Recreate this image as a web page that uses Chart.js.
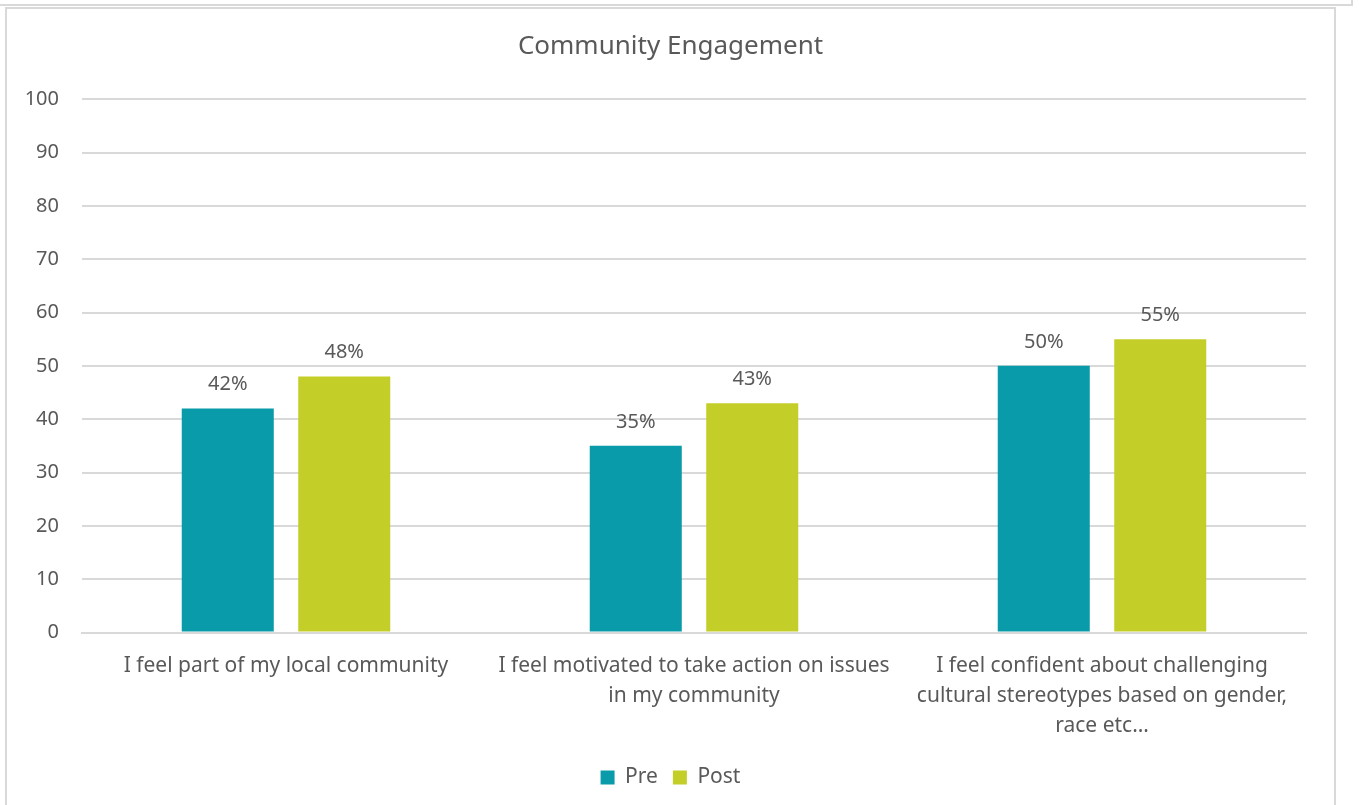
<!DOCTYPE html>
<html>
<head>
<meta charset="utf-8">
<script src="https://cdn.jsdelivr.net/npm/chart.js@4"></script>
<style>
    html, body { margin: 0; padding: 0; background: #fff; overflow: hidden; }
    .topLine { position: absolute; left: 0; top: 4px; width: 1352px; height: 2px; background: #d9d9d9; }
    .topTick { position: absolute; left: 1351px; top: 0; width: 2px; height: 6px; background: #d9d9d9; }
    .frame { position: absolute; left: 5px; top: 7px; width: 1327px; height: 820px; border: 2px solid #d9d9d9; border-bottom: none; }
    .frame canvas { display: block; }
</style>
</head>
<body>
<div class="topLine"></div>
<div class="topTick"></div>
<div class="frame"><canvas id="chart" width="1327" height="798"></canvas></div>
<script>
const categories = [
    "I feel part of my local community",
    ["I feel motivated to take action on issues", "in my community"],
    ["I feel confident about challenging", "cultural stereotypes based on gender,", "race etc\u2026"]
];
const preValues = [42, 35, 50];
const postValues = [48, 43, 55];
const yTicks = [0, 10, 20, 30, 40, 50, 60, 70, 80, 90, 100];

const textColor = "#595959";
Chart.defaults.font.family = "'Noto Sans', sans-serif";

// writes "NN%" just above each bar
const barLabels = {
    id: "barLabels",
    afterDatasetsDraw(chart) {
        const ctx = chart.ctx;
        ctx.save();
        ctx.font = "20px 'Noto Sans', sans-serif";
        ctx.fillStyle = textColor;
        ctx.textAlign = "center";
        ctx.textBaseline = "middle";
        chart.data.datasets.forEach((ds, i) => {
            chart.getDatasetMeta(i).data.forEach((bar, j) => {
                ctx.fillText(ds.data[j] + "%", bar.x, bar.y - 24);
            });
        });
        ctx.restore();
    }
};

// let the y tick labels run into the left padding instead of being clipped
const widenYAxis = {
    id: "widenYAxis",
    afterLayout(chart) {
        chart.scales.y.left = 0;
    }
};

const config = {
    type: "bar",
    data: {
        labels: categories,
        datasets: [{
            label: "Pre",
            data: preValues,
            backgroundColor: "#0A9BAA",
            categoryPercentage: 0.571,
            barPercentage: 0.79
        }, {
            label: "Post",
            data: postValues,
            backgroundColor: "#C4CE28",
            categoryPercentage: 0.571,
            barPercentage: 0.79
        }]
    },
    options: {
        responsive: false,
        animation: false,
        layout: {
            padding: { left: 28, right: 28, top: 12, bottom: 9 }
        },
        plugins: {
            title: {
                display: true,
                text: "Community Engagement",
                color: textColor,
                font: { size: 26, weight: "normal" },
                padding: { top: 10, bottom: 37 }
            },
            legend: {
                position: "bottom",
                labels: {
                    color: textColor,
                    font: { size: 21 },
                    boxWidth: 14,
                    boxHeight: 14,
                    padding: 15
                }
            },
            tooltip: { enabled: false }
        },
        scales: {
            y: {
                min: 0,
                max: 100,
                afterBuildTicks: (axis) => { axis.ticks = yTicks.map(v => ({ value: v })); },
                afterFit: (axis) => { axis.width = 47; },
                border: { display: false },
                grid: { color: "#d9d9d9", lineWidth: 2, drawTicks: false },
                ticks: { color: textColor, font: { size: 20 }, padding: 23 }
            },
            x: {
                border: { color: "#d9d9d9", width: 2 },
                grid: { display: false },
                ticks: { color: textColor, font: { size: 21, lineHeight: 1.42 }, padding: 11, maxRotation: 0 }
            }
        }
    },
    plugins: [barLabels, widenYAxis]
};

new Chart(document.getElementById("chart"), config);
</script>
</body>
</html>
